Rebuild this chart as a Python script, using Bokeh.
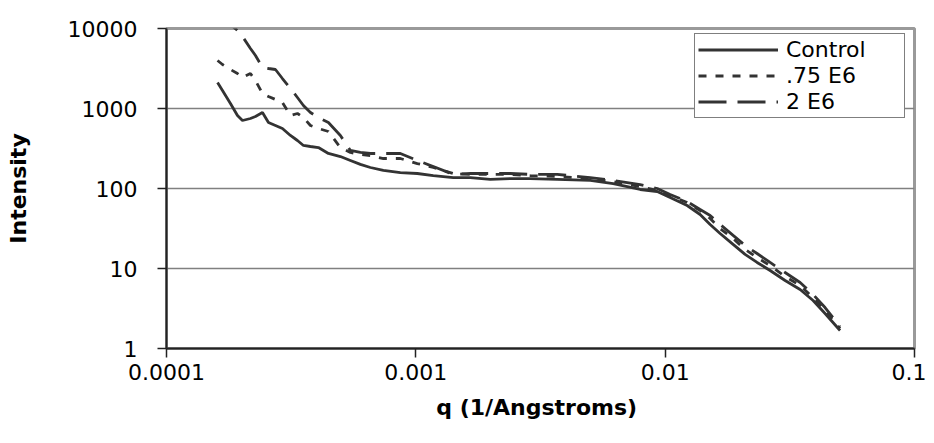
from bokeh.plotting import figure
from bokeh.models import (FixedTicker, CustomJSTickFormatter, Legend, LegendItem, Range1d)
from bokeh.embed import file_html
from bokeh.resources import INLINE

# ---- data ----
q = [1.602e-4, 1.677e-4, 1.805e-4, 1.926e-4, 2.017e-4, 2.171e-4, 2.274e-4, 2.426e-4,
     2.564e-4, 2.735e-4, 2.917e-4, 3.141e-4, 3.351e-4, 3.541e-4, 3.778e-4, 4.067e-4,
     4.460e-4, 4.982e-4, 5.465e-4, 5.993e-4, 6.572e-4, 7.409e-4, 8.667e-4, 1.014e-3,
     1.175e-3, 1.413e-3, 1.654e-3, 1.989e-3, 2.392e-3, 2.877e-3, 3.691e-3, 5.006e-3,
     6.188e-3, 7.940e-3, 9.289e-3, 1.047e-2, 1.225e-2, 1.381e-2, 1.515e-2, 1.661e-2,
     1.873e-2, 2.092e-2, 2.337e-2, 2.636e-2, 3.027e-2, 3.477e-2, 3.920e-2, 4.378e-2,
     5.029e-2]

control = [2110, 1680, 1155, 818, 708, 750, 794, 891,
           668, 613, 562, 460, 398, 345, 335, 325,
           274, 251, 224, 200, 183, 168, 158, 154,
           145, 137, 137, 130, 133, 133, 130, 126,
           115, 97.2, 91.7, 77.2, 61.3, 47.3, 35.5, 27.4,
           20.0, 15.0, 11.9, 9.44, 7.08, 5.46, 3.98, 2.74,
           1.68]

e6_075 = [3980, 3548, 3073, 2738, 2441, 2738, 2239, 1540,
          1413, 1296, 1189, 818, 866, 772, 613, 562,
          516, 325, 282, 266, 258, 237, 237, 205,
          183, 154, 150, 150, 150, 145, 141, 133,
          122, 106, 94.4, 81.8, 66.8, 53.1, 42.2, 31.6,
          23.7, 17.3, 13.7, 10.9, 7.94, 6.13, 4.34, 2.99,
          1.78]

e6_2 = [16800, 14125, 11220, 9441, 7943, 5623, 4597, 3254,
        3162, 3073, 2371, 1778, 1372, 1090, 891, 772,
        668, 460, 299, 282, 274, 274, 274, 224,
        188, 150, 154, 154, 154, 150, 150, 137,
        126, 112, 100, 84.1, 68.8, 54.6, 46.0, 35.5,
        25.9, 19.4, 15.4, 11.9, 8.91, 6.68, 4.73, 3.25,
        1.88]

series_names = ["Control", ".75 E6", "2 E6"]

x_ticks = [0.0001, 0.001, 0.01, 0.1]
x_tick_labels = ["0.0001", "0.001", "0.01", "0.1"]
y_ticks = [1, 10, 100, 1000, 10000]
y_tick_labels = ["1", "10", "100", "1000", "10000"]

FONT = "DejaVu Sans"
INK = "#333333"

p = figure(frame_width=748, frame_height=320,
           x_axis_type="log", y_axis_type="log",
           x_range=Range1d(1e-4, 0.1), y_range=Range1d(1, 10000),
           output_backend="svg", toolbar_location=None,
           min_border_left=166, min_border_right=12,
           min_border_top=28, min_border_bottom=87,
           background_fill_color="white", border_fill_color="white")

p.outline_line_color = "#9a9a9a"
p.outline_line_width = 3

r1 = p.line(q, control, line_color=INK, line_width=2.8)
r2 = p.line(q, e6_075, line_color=INK, line_width=2.8, line_dash="8 9")
r3 = p.line(q, e6_2, line_color=INK, line_width=2.8, line_dash="28 11")

code = """
let best = 0; let bd = Infinity;
for (let i = 0; i < vals.length; i++) {
  const d = Math.abs(Math.log10(tick) - Math.log10(vals[i]));
  if (d < bd) { bd = d; best = i; }
}
return labs[best];
"""
p.xaxis.ticker = FixedTicker(ticks=x_ticks)
p.yaxis.ticker = FixedTicker(ticks=y_ticks)
p.xaxis.formatter = CustomJSTickFormatter(args=dict(vals=x_ticks, labs=x_tick_labels), code=code)
p.yaxis.formatter = CustomJSTickFormatter(args=dict(vals=y_ticks, labs=y_tick_labels), code=code)

for ax in (p.xaxis, p.yaxis):
    ax.axis_line_color = "#222222"
    ax.axis_line_width = 2
    ax.major_tick_line_color = "#222222"
    ax.major_tick_line_width = 1.5
    ax.major_tick_out = 9
    ax.major_tick_in = 0
    ax.minor_tick_line_color = None
    ax.major_label_text_font = FONT
    ax.major_label_text_font_size = "22px"
    ax.major_label_text_color = "black"
    ax.axis_label_text_font = FONT
    ax.axis_label_text_font_size = "22px"
    ax.axis_label_text_font_style = "bold"
    ax.axis_label_text_color = "black"

p.xaxis.axis_label = "q  (1/Angstroms)"
p.yaxis.axis_label = "Intensity"
p.xaxis.major_label_standoff = 6
p.xaxis.axis_label_standoff = 12
p.yaxis.major_label_standoff = 20
p.yaxis.axis_label_standoff = 34

p.xgrid.visible = False
p.ygrid.grid_line_color = "#808080"
p.ygrid.grid_line_width = 1.5

legend = Legend(items=[LegendItem(label=series_names[0], renderers=[r1]),
                       LegendItem(label=series_names[1], renderers=[r2]),
                       LegendItem(label=series_names[2], renderers=[r3])],
                location=(528, 230), margin=0, padding=3, spacing=1,
                glyph_width=80, glyph_height=23, label_height=23, label_width=115,
                label_standoff=8,
                label_text_font=FONT, label_text_font_size="22px", label_text_color="black",
                border_line_color="black", border_line_width=1,
                background_fill_color="white", background_fill_alpha=1.0)
p.add_layout(legend)

open("out.html", "w").write(file_html(p, INLINE))
